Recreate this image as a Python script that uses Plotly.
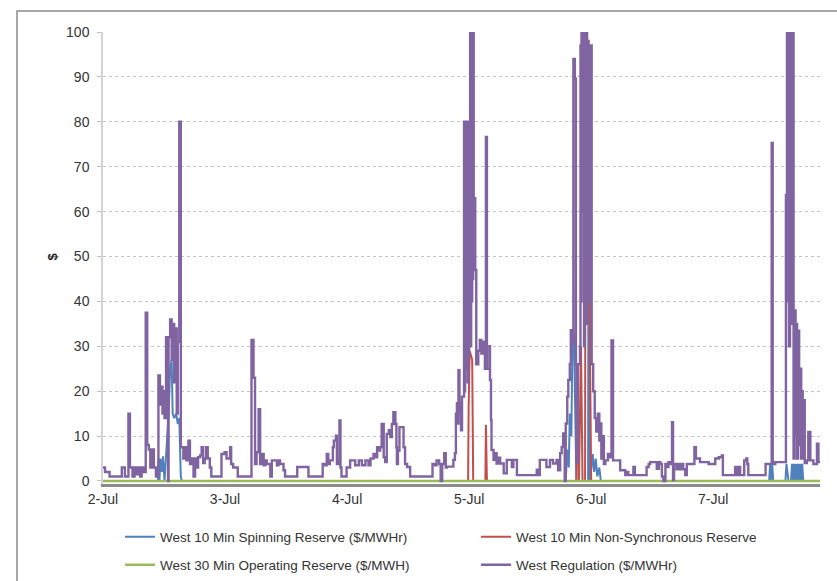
import pandas as pd
import plotly.graph_objects as go

# ---------------- data (hours after 2-Jul 00:00, $ values) ----------------
base_date = "2012-07-02"
day_ticks = [0, 24, 48, 72, 96, 120]
day_labels = ["2-Jul", "3-Jul", "4-Jul", "5-Jul", "6-Jul", "7-Jul"]
y_ticks = [0, 10, 20, 30, 40, 50, 60, 70, 80, 90, 100]

reg_hours = [
    0, 0.4, 1.3, 3.7, 4.3, 5.0, 5.3, 5.8, 6.2, 6.6, 7.0, 7.3, 7.6, 8.0, 8.4, 8.7, 9.0, 9.3, 9.6, 10.0, 10.4,
    10.9, 11.2, 11.4, 11.7, 11.9, 12.1, 12.4, 12.7, 12.8, 12.9, 13.2, 13.5, 13.7, 14.0, 14.2, 14.5, 14.7, 15.0, 15.3,
    15.8, 16.1, 16.4, 16.8, 17.1, 17.5, 17.8, 18.1, 18.4, 18.7, 19.1, 19.4, 19.7, 20.0, 20.3, 20.6, 21.0, 21.3,
    23.3, 23.9, 24.3, 25.0, 25.2, 25.6, 26.5,
    29.2, 29.6, 29.9, 30.2, 30.6, 30.9, 31.2, 31.6, 31.9, 32.2, 32.9, 33.2, 34.2, 34.5, 34.8, 35.5, 35.8,
    38.2, 40.4,
    43.2, 43.7, 44.0, 44.3, 44.6, 45.2, 45.4, 45.8, 46.0, 46.3, 46.5, 46.7, 46.9,
    47.9, 48.6, 49.6, 50.3, 50.9, 51.6, 52.2, 52.6, 53.2, 53.5, 53.9, 54.2, 54.5, 54.8, 55.2, 55.5, 55.8, 56.2,
    56.5, 56.8, 57.1, 57.5, 57.7, 57.8, 58.0, 58.3, 59.1, 59.4, 59.8, 60.4,
    64.8, 65.3, 65.6, 66.1, 66.4, 66.7, 67.1, 67.4, 67.6,
    68.9, 69.2, 69.4, 69.6, 69.8, 69.9, 70.1, 70.2, 70.4, 70.6,
    71.0, 71.1, 71.2, 71.3, 71.4, 71.5, 71.6, 71.7, 71.8, 71.9, 72.0, 72.1, 72.2, 72.3, 72.4, 72.5, 72.6, 72.7, 72.8,
    72.9, 73.2, 73.4, 73.8, 74.1, 74.4, 74.8, 75.1, 75.3, 75.5, 75.8, 76.0, 76.1, 76.3, 76.4, 76.8, 77.1, 77.4,
    77.8, 78.1, 78.8, 79.4, 80.4, 80.7, 81.4,
    85.3, 85.6, 85.9, 87.2, 87.9, 88.5, 89.2, 89.5, 89.9, 90.2, 90.5, 90.8, 91.0, 91.3, 91.5, 91.8, 92.0, 92.2,
    92.5, 92.8, 93.0, 93.1, 93.4, 93.8,
    93.9, 94.0, 94.1, 94.3, 94.4, 94.6, 94.7, 94.9, 95.0, 95.2, 95.3, 95.5, 95.6, 95.8, 95.9,
    96.1, 96.4, 96.7, 97.0, 97.3, 97.6, 97.8, 98.0, 98.2, 98.5, 98.8, 99.3, 99.6, 100.0, 100.3, 101.7, 102.7,
    103.0, 103.3, 104.3, 104.6,
    106.9, 107.3, 107.6, 108.9, 109.3, 109.6, 109.9, 110.2, 110.6, 110.9, 111.2, 111.5, 111.9, 112.1, 112.3,
    112.8, 113.2, 113.5, 113.8, 114.1, 114.5, 114.8,
    116.3, 116.6, 117.4, 119.1, 120.4, 121.1, 121.7, 121.9, 124.3, 124.7, 125.0, 125.3, 126.1, 126.5, 126.7, 126.9,
    130.3, 131.5, 131.7, 132.2, 134.3, 134.5, 134.6, 134.8, 134.9, 135.1, 135.2, 135.4, 135.5, 135.6,
    135.8, 136.0, 136.2, 136.4, 136.5, 136.7, 136.9, 137.1, 137.3, 137.4, 137.6, 137.8, 138.0, 138.4, 138.7,
    139.1, 139.7, 140.4, 140.7, 141.0,
]
reg_values = [
    3, 2, 1, 3, 1, 15, 3, 1, 3, 1.5, 3, 1, 3, 2, 37.5, 8, 7, 3, 7, 3, 1,
    23.5, 17, 21, 15, 20, 14, 32, 30, 0, 32, 36, 27, 35, 22, 34, 15, 31, 80, 7.5,
    5, 7.5, 4.6, 9, 3.8, 5, 1, 5, 3, 5.3, 5.7, 7.5, 4, 5, 7.5, 5, 3, 1,
    6, 6.4, 5, 7.5, 3.8, 3, 1,
    31.4, 23, 3.8, 6.4, 16, 3.8, 6, 3.5, 4.6, 3.8, 1, 4.6, 3.5, 4.6, 3.8, 2.4, 1,
    3.1, 1,
    3.8, 3.5, 6, 3.8, 4.6, 7.5, 9, 10.1, 3.8, 4.6, 13.5, 3, 1,
    3, 4.6, 3.5, 4.6, 3.5, 4.6, 3.5, 5, 6, 5.3, 7.5, 6.8, 7.5, 12.7, 5.3, 4.2, 10.5, 11.3,
    9.8, 12.7, 15.3, 12.7, 7.5, 3.8, 6.8, 12, 7.5, 3.8, 3.1, 1,
    3.8, 3.5, 4.6, 3.8, 0, 3.8, 6.2, 3, 3.2,
    4.7, 6.2, 15, 17.3, 12.8, 24.7, 15, 17.3, 11.3, 18.8,
    80, 20, 80, 25, 80, 30, 80, 22, 80, 28, 80, 35, 100, 30, 100, 40, 100, 45, 100,
    63, 47, 26, 29, 31.4, 28.4, 31, 25, 76.6, 25, 25, 30, 22.5, 13.6, 6.9, 4.7, 6.2, 3.9,
    5.2, 3.9, 1.7, 4.7, 3.1, 4.7, 1.3,
    2.5, 1.3, 4.7, 3.1, 4.7, 3.9, 4.7, 2.4, 6.2, 7.6, 10.6, 0, 12.8, 18.8, 22.5, 26, 33.6, 30.6,
    94, 89.6, 26, 4, 26, 30,
    97, 40, 100, 60, 100, 30, 100, 50, 100, 35, 98, 45, 97, 40, 97,
    26, 20, 14, 11, 15, 9, 12.8, 5, 10, 3.8, 4.6, 6, 5.3, 31.3, 4.6, 2.4, 1.3,
    2, 1.3, 3.1, 1.3,
    3.1, 3.8, 4.2, 2.7, 4.2, 3.8, 1, 0, 3.8, 3.1, 4.2, 3.8, 13.1, 0.2, 3.8,
    2.6, 3.8, 2.6, 3.8, 2.6, 1.3, 3.8,
    7.5, 5, 4.2, 3.8, 5, 5.3, 5.7, 1.3, 3.1, 1.3, 3.1, 1.3, 4.6, 5, 3.8, 1.3,
    3.8, 75.3, 3.8, 4.2, 63.7, 100, 40, 100, 30, 100, 50, 100, 35, 100,
    5, 38, 10, 35, 5, 33.5, 8, 25, 5, 20, 5, 18, 4, 4.6, 10.9,
    4.6, 3.8, 8.3, 4.2, 4.2,
]

spin_hours = [
    0, 10.8, 10.9, 11.1, 11.3, 11.6, 11.8, 12.1, 12.9, 13.2, 13.5, 13.7, 14.0, 14.4, 14.7, 15.0, 15.3, 15.5,
    91.0, 91.3, 91.6, 91.8, 92.1, 92.3, 92.6, 92.9, 93.1, 95.4, 95.5, 95.7, 95.8, 96.3, 96.6, 96.9, 97.2,
    97.6, 97.9, 131.0, 131.2, 131.4, 131.6, 131.8, 134.2, 134.4, 134.8, 135.3, 135.5, 135.7, 135.9, 136.1,
    136.3, 136.5, 136.7, 136.9, 137.1, 137.3, 137.5, 137.7, 141.0,
]
spin_values = [
    0, 0, 5, 0, 5, 2, 5.5, 0, 15, 25, 27, 15, 14, 15, 12.7, 14, 1, 0,
    0, 7, 3, 15, 10, 30, 33, 5, 0, 0, 80, 60, 0, 6, 2, 5, 1,
    3, 0, 0, 3.8, 0, 3.8, 0, 0, 3.8, 0, 0, 3.8, 0, 3.8, 0,
    3.8, 0, 3.8, 0, 3.8, 0, 3.8, 0, 0,
]

nonsync_hours = [0, 71.8, 71.9, 72.1, 72.6, 72.8, 75.2, 75.3, 75.5, 93.1, 93.2, 93.6, 94.0, 94.3,
                 94.8, 94.9, 95.2, 95.5, 95.8, 96.0, 141.0]
nonsync_values = [0, 0, 16, 29, 27, 0, 0, 12.5, 0, 0, 25, 0, 30, 0,
                  0, 90, 60, 88, 25, 0, 0]

oper_hours = [0, 141.0]
oper_values = [0, 0]

names = [
    "West 10 Min Spinning Reserve ($/MWHr)",
    "West 10 Min Non-Synchronous Reserve",
    "West 30 Min Operating Reserve ($/MWH)",
    "West Regulation ($/MWHr)",
]
colors = ["#4F81BD", "#C0504D", "#9BBB59", "#8064A2"]

# ---------------- figure ----------------
t0 = pd.Timestamp(base_date)


def to_time(hours):
    return [t0 + pd.Timedelta(hours=h) for h in hours]


W, H = 837, 581
L, R, T, B = 103, 17, 32, 97
pw, ph = W - L - R, H - T - B


def px_x(p):
    return (p - L) / pw


def px_y(p):
    return (H - B - p) / ph


fig = go.Figure()
fig.add_trace(go.Scatter(x=to_time(spin_hours), y=spin_values, mode="lines", name=names[0],
                         line=dict(color=colors[0], width=2), legend="legend"))
fig.add_trace(go.Scatter(x=to_time(nonsync_hours), y=nonsync_values, mode="lines", name=names[1],
                         line=dict(color=colors[1], width=2), legend="legend2"))
fig.add_trace(go.Scatter(x=to_time(oper_hours), y=oper_values, mode="lines", name=names[2],
                         line=dict(color=colors[2], width=2.5), legend="legend3"))
fig.add_trace(go.Scatter(x=to_time(reg_hours), y=reg_values, mode="lines", name=names[3],
                         line=dict(color=colors[3], width=2.4, shape="hv"), legend="legend4"))

font_family = "Liberation Sans, Arial, sans-serif"

legend_common = dict(orientation="h", xanchor="left", yanchor="middle",
                     font=dict(family=font_family, size=13.5, color="#333333"),
                     bgcolor="rgba(0,0,0,0)")

fig.update_layout(
    width=W, height=H,
    margin=dict(l=L, r=R, t=T, b=B, pad=0, autoexpand=False),
    paper_bgcolor="white", plot_bgcolor="white",
    font=dict(family=font_family, size=14, color="#333333"),
    legend=dict(x=px_x(120), y=px_y(537), **legend_common),
    legend2=dict(x=px_x(476), y=px_y(537), **legend_common),
    legend3=dict(x=px_x(120), y=px_y(565), **legend_common),
    legend4=dict(x=px_x(476), y=px_y(565), **legend_common),
    xaxis=dict(
        type="date",
        range=[t0, t0 + pd.Timedelta(hours=141)],
        tickvals=to_time(day_ticks), ticktext=day_labels,
        showgrid=False, zeroline=False,
        showline=True, linecolor="#8c8c8c", linewidth=3,
        ticks="", tickfont=dict(size=14, color="#333333"),
        automargin=False,
    ),
    yaxis=dict(
        range=[-0.67, 100],
        tickvals=y_ticks,
        showgrid=True, gridcolor="#c4c4c4", griddash="dot", gridwidth=1,
        zeroline=False,
        showline=True, linecolor="#d4d4d4", linewidth=1.5,
        ticks="outside", ticklen=4, tickcolor="#bfbfbf",
        ticklabelstandoff=5,
        tickfont=dict(size=14, color="#333333"),
        automargin=False,
    ),
    annotations=[dict(
        text="<b>$</b>", textangle=-90, xref="paper", yref="y",
        x=px_x(52), y=50, showarrow=False, xanchor="center", yanchor="middle",
        font=dict(size=13, color="#222222", family=font_family),
    )],
    shapes=[dict(
        type="rect", xref="paper", yref="paper",
        x0=px_x(17), x1=px_x(900), y0=px_y(700), y1=px_y(11),
        line=dict(color="#8c8c8c", width=1.5), fillcolor="rgba(0,0,0,0)", layer="below",
    )],
    showlegend=True,
)

fig.write_html("out.html")
